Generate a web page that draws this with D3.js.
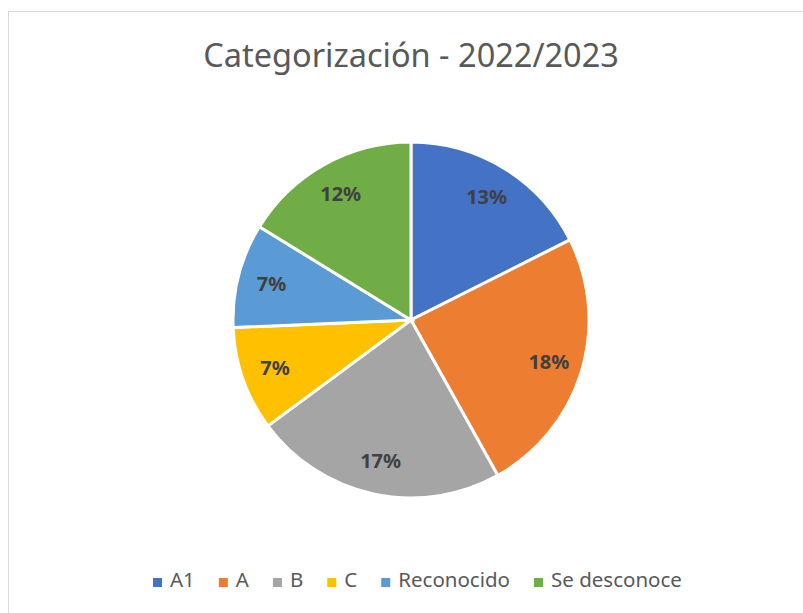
<!DOCTYPE html>
<html>
<head>
<meta charset="utf-8">
<script src="https://cdn.jsdelivr.net/npm/d3@7"></script>
<style>
  body { margin: 0; background: #fff; }
  svg { display: block; font-family: "Noto Sans", "Open Sans", sans-serif; }
</style>
</head>
<body>
<svg width="803" height="613"></svg>
<script>
// data
const categories = ["A1", "A", "B", "C", "Reconocido", "Se desconoce"];
const values = [13, 18, 17, 7, 7, 12];
const colors = ["#4472c4", "#ed7d31", "#a5a5a5", "#ffc000", "#5b9bd5", "#70ad47"];
const title = "Categorización - 2022/2023";

const svg = d3.select("svg");

// chart frame (runs past the right/bottom edge like the screenshot)
svg.append("rect")
  .attr("x", 8.5).attr("y", 11.5)
  .attr("width", 820).attr("height", 640)
  .attr("fill", "#fff")
  .attr("stroke", "#d9d9d9");

// title
svg.append("text")
  .attr("x", 411).attr("y", 67)
  .attr("text-anchor", "middle")
  .attr("font-size", 32.5)
  .attr("fill", "#595959")
  .text(title);

// pie
const cx = 411, cy = 320, radius = 178;
const pie = d3.pie().sort(null).value(d => d.value);
const arc = d3.arc().innerRadius(0).outerRadius(radius);
const labelArc = d3.arc().innerRadius(radius * 0.81).outerRadius(radius * 0.81);

const data = categories.map((c, i) => ({ name: c, value: values[i], color: colors[i] }));

const g = svg.append("g").attr("transform", `translate(${cx},${cy})`);

const slices = g.selectAll("g.slice")
  .data(pie(data))
  .enter()
  .append("g")
  .attr("class", "slice");

slices.append("path")
  .attr("d", arc)
  .attr("fill", d => d.data.color)
  .attr("stroke", "#fff")
  .attr("stroke-width", 3);

slices.append("text")
  .attr("transform", d => `translate(${labelArc.centroid(d)})`)
  .attr("text-anchor", "middle")
  .attr("dy", "0.36em")
  .attr("font-size", 20)
  .attr("font-weight", "bold")
  .attr("fill", "#404040")
  .text(d => d.data.value + "%");

// legend - flow layout from the measured text widths
const legend = svg.append("g").attr("transform", "translate(0,587)");
let lx = 153;
data.forEach(d => {
  const item = legend.append("g").attr("transform", `translate(${lx},0)`);
  item.append("rect")
    .attr("x", 0).attr("y", -9)
    .attr("width", 9).attr("height", 9)
    .attr("fill", d.color);
  const t = item.append("text")
    .attr("x", 17)
    .attr("font-size", 20.5)
    .attr("fill", "#595959")
    .text(d.name);
  lx += 17 + t.node().getComputedTextLength() + 24;
});
</script>
</body>
</html>
